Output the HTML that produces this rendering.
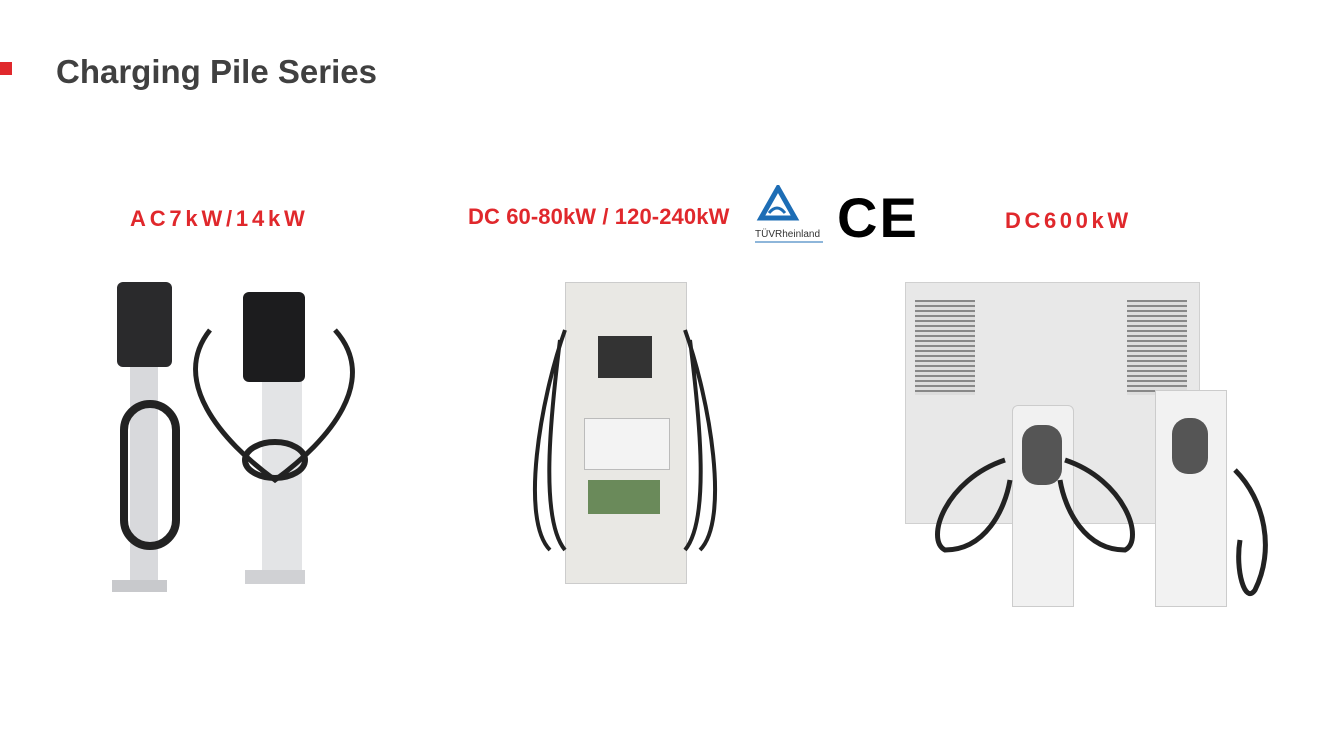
<!DOCTYPE html>
<html><head><meta charset="utf-8"><style>
body{margin:0;width:1334px;height:750px;background:#fff;position:relative;overflow:hidden;font-family:"Liberation Sans",sans-serif}
.a{position:absolute}
.t{font-weight:bold;color:#e0282c;white-space:nowrap}
</style></head><body>
<div class="a" style="left:0;top:62px;width:12px;height:13px;background:#e0282c"></div>
<div class="a" style="left:56px;top:53px;font-size:33px;font-weight:bold;color:#404040;letter-spacing:0px">Charging Pile Series</div>
<div class="a t" style="left:130px;top:206px;font-size:22px;letter-spacing:3.8px">AC7kW/14kW</div>
<div class="a t" style="left:468px;top:204px;font-size:22px;letter-spacing:0.1px">DC 60-80kW / 120-240kW</div>
<div class="a t" style="left:1005px;top:208px;font-size:22px;letter-spacing:3.6px">DC600kW</div>
<svg class="a" style="left:755px;top:185px" width="160" height="60">
<polygon points="23,3 6,33 40,33" fill="none" stroke="#1d6db5" stroke-width="5"/>
<path d="M14,28 Q22,18 30,28" fill="none" stroke="#1d6db5" stroke-width="3"/>
<text x="0" y="52" font-size="10" fill="#333" font-family="Liberation Sans">TÜVRheinland</text>
<line x1="0" y1="57" x2="68" y2="57" stroke="#1d6db5"/>
<text x="82" y="52" font-size="56" fill="#000" font-family="Liberation Sans" font-weight="bold" letter-spacing="2">CE</text>
</svg>
<div class="a" style="left:130px;top:340px;width:28px;height:250px;background:#d8d9dc"></div>
<div class="a" style="left:112px;top:580px;width:55px;height:12px;background:#c8c9cc"></div>
<div class="a" style="left:117px;top:282px;width:55px;height:85px;background:#2a2a2c;border-radius:6px"></div>
<div class="a" style="left:120px;top:400px;width:60px;height:150px;border:8px solid #222;border-radius:30px;box-sizing:border-box"></div>
<div class="a" style="left:262px;top:380px;width:40px;height:200px;background:#e3e4e6"></div>
<div class="a" style="left:245px;top:570px;width:60px;height:14px;background:#d0d1d4"></div>
<div class="a" style="left:243px;top:292px;width:62px;height:90px;background:#1c1c1e;border-radius:6px"></div>
<svg class="a" style="left:180px;top:320px" width="190" height="180"><path d="M30,10 C-10,60 40,120 95,160 C150,120 200,60 155,10" fill="none" stroke="#222" stroke-width="5"/><ellipse cx="95" cy="140" rx="30" ry="18" fill="none" stroke="#222" stroke-width="6"/></svg>
<div class="a" style="left:565px;top:282px;width:120px;height:300px;background:#e9e8e4;border:1px solid #ccc"></div>
<div class="a" style="left:598px;top:336px;width:54px;height:42px;background:#333"></div>
<div class="a" style="left:584px;top:418px;width:84px;height:50px;background:#f3f3f3;border:1px solid #bbb"></div>
<div class="a" style="left:588px;top:480px;width:72px;height:34px;background:#6a8a5a"></div>
<svg class="a" style="left:520px;top:320px" width="210" height="240"><path d="M45,10 C20,80 0,200 30,230 M40,20 C30,100 20,200 45,230 M165,10 C190,80 210,200 180,230 M170,20 C180,100 190,200 165,230" fill="none" stroke="#222" stroke-width="4"/></svg>
<div class="a" style="left:905px;top:282px;width:293px;height:240px;background:#e8e8e8;border:1px solid #d0d0d0"></div>
<div class="a" style="left:915px;top:300px;width:60px;height:95px;background:repeating-linear-gradient(#888 0 2px,#ddd 2px 5px)"></div>
<div class="a" style="left:1127px;top:300px;width:60px;height:95px;background:repeating-linear-gradient(#888 0 2px,#ddd 2px 5px)"></div>
<div class="a" style="left:1012px;top:405px;width:60px;height:200px;background:#f1f1f1;border:1px solid #ccc;border-radius:6px 6px 0 0"></div>
<div class="a" style="left:1022px;top:425px;width:40px;height:60px;background:#555;border-radius:16px"></div>
<div class="a" style="left:1155px;top:390px;width:70px;height:215px;background:#f2f2f2;border:1px solid #ccc"></div>
<div class="a" style="left:1172px;top:418px;width:36px;height:56px;background:#555;border-radius:16px"></div>
<svg class="a" style="left:925px;top:440px" width="360" height="170"><path d="M80,20 C20,40 0,100 20,110 C60,110 80,70 85,40 M140,20 C200,40 220,100 200,110 C160,110 140,70 135,40 M310,30 C340,60 350,110 330,150 C320,165 310,130 315,100" fill="none" stroke="#222" stroke-width="5"/></svg>
</body></html>
